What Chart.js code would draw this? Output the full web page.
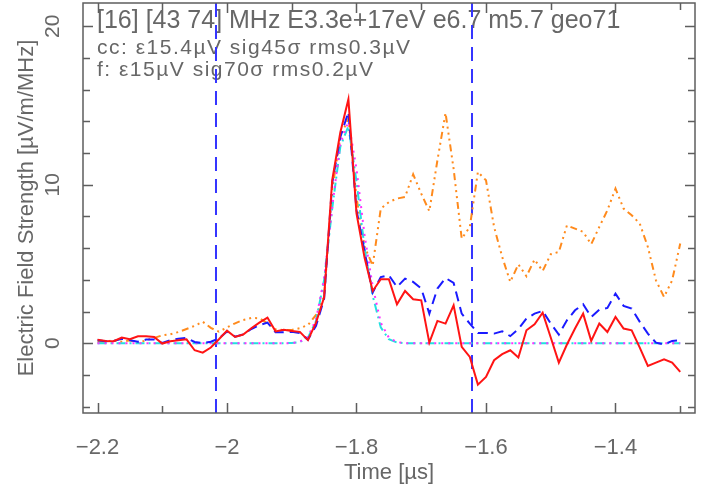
<!DOCTYPE html>
<html>
<head>
<meta charset="utf-8">
<script src="https://cdn.jsdelivr.net/npm/chart.js@4.4.1/dist/chart.umd.min.js"></script>
<style>
  html, body { margin: 0; padding: 0; background: #fff; }
</style>
</head>
<body>
<canvas id="myChart" width="715" height="495"></canvas>
<script>
// time samples [µs], 12.5 ns apart
const time = [
  -2.2, -2.1875, -2.175, -2.1625, -2.15, -2.1375, -2.125, -2.1125, -2.1, -2.0875,
  -2.075, -2.0625, -2.05, -2.0375, -2.025, -2.0125, -2.0, -1.9875, -1.975, -1.9625,
  -1.95, -1.9375, -1.925, -1.9125, -1.9, -1.8875, -1.875, -1.8625, -1.85, -1.8375,
  -1.825, -1.8125, -1.8, -1.7875, -1.775, -1.7625, -1.75, -1.7375, -1.725, -1.7125,
  -1.7, -1.6875, -1.675, -1.6625, -1.65, -1.6375, -1.625, -1.6125, -1.6, -1.5875,
  -1.575, -1.5625, -1.55, -1.5375, -1.525, -1.5125, -1.5, -1.4875, -1.475, -1.4625,
  -1.45, -1.4375, -1.425, -1.4125, -1.4, -1.3875, -1.375, -1.3625, -1.35, -1.3375,
  -1.325, -1.3125, -1.3
];

// field strength [µV/m/MHz]
const fieldRed = [
  0.23, 0.15, 0.13, 0.36, 0.25, 0.44, 0.44, 0.40, -0.02, 0.13,
  0.19, 0.25, -0.44, -0.59, -0.27, 0.25, 0.80, 0.40, 0.55, 0.95,
  1.30, 1.62, 0.75, 0.85, 0.78, 0.72, 0.20, 1.30, 2.90, 10.3,
  13.3, 15.4, 8.2, 5.4, 3.3, 4.04, 4.04, 2.46, 3.30, 2.78,
  2.71, 0.04, 1.41, 1.24, 2.40, -0.23, -0.86, -2.61, -2.12, -1.07,
  -0.69, -0.44, -0.90, 0.82, 1.20, 1.93, 0.36, -1.22, -0.08, 0.93,
  1.87, 0.15, 1.24, 0.71, 1.66, 0.93, 0.82, -0.27, -1.43, -1.22,
  -1.01, -1.22, -1.81
];

const fieldBlue = [
  0.19, 0.13, 0.15, 0.29, 0.19, 0.10, 0.23, 0.23, 0.02, 0.19,
  0.29, 0.34, 0.08, 0.02, 0.10, 0.30, 0.75, 0.42, 0.55, 0.90,
  1.15, 1.30, 0.70, 0.70, 0.72, 0.65, 0.23, 1.10, 2.80, 10.1,
  13.0, 14.6, 8.4, 5.8, 3.2, 4.18, 4.29, 3.55, 4.08, 3.87,
  3.45, 1.87, 3.45, 4.12, 3.81, 1.87, 1.24, 0.65, 0.65, 0.61,
  0.76, 0.45, 0.90, 1.56, 1.87, 2.04, 1.24, 0.55, 1.45, 2.08,
  2.46, 1.66, 2.12, 2.23, 3.13, 2.36, 2.19, 1.35, 0.61, 0.04,
  -0.08, 0.15, 0.19
];

const fieldOrange = [
  0.10, 0.10, 0.19, 0.10, 0.19, 0.02, 0.19, 0.34, 0.50, 0.57,
  0.71, 0.90, 1.10, 1.36, 0.97, 0.73, 1.00, 1.26, 1.47, 1.60,
  1.58, 1.26, 0.88, 0.84, 0.84, 0.95, 1.15, 1.79, 2.94, 9.7,
  13.0, 14.2, 9.2, 6.1, 4.9, 8.5, 8.91, 9.13, 9.23, 10.66,
  9.44, 8.33, 11.55, 14.53, 11.0, 6.6, 7.34, 10.81, 10.28, 7.34,
  5.45, 3.87, 4.98, 4.23, 5.28, 4.56, 5.62, 5.76, 7.44, 7.23,
  7.03, 6.25, 7.34, 8.39, 9.76, 8.50, 8.08, 7.55, 6.08, 3.97,
  2.92, 3.97, 6.29
];

const fitCyan = [
  0, 0, 0, 0, 0, 0, 0, 0, 0, 0,
  0, 0, 0, 0, 0, 0, 0, 0, 0, 0,
  0, 0, 0, 0, 0.02, 0.08, 0.35, 1.4, 4.0, 8.5,
  12.4, 13.7, 10.2, 6.0, 3.0, 1.0, 0.25, 0.05, 0, 0,
  0, 0, 0, 0, 0, 0, 0, 0, 0, 0,
  0, 0, 0, 0, 0, 0, 0, 0, 0, 0,
  0, 0, 0, 0, 0, 0, 0, 0, 0, 0,
  0, 0, 0
];

const fitMagenta = [
  0, 0, 0, 0, 0, 0, 0, 0, 0, 0,
  0, 0, 0, 0, 0, 0, 0, 0, 0, 0,
  0, 0, 0, 0, 0, 0.1, 0.4, 1.5, 4.1, 8.6,
  12.6, 14.0, 11.0, 6.8, 3.6, 1.3, 0.35, 0.08, 0, 0,
  0, 0, 0, 0, 0, 0, 0, 0, 0, 0,
  0, 0, 0, 0, 0, 0, 0, 0, 0, 0,
  0, 0, 0, 0, 0, 0, 0, 0, 0, 0,
  0, 0, 0
];

// vertical window markers [µs]
const windowLines = [-2.017, -1.6216];

const xTickValues = [-2.2, -2, -1.8, -1.6, -1.4];
const yTickValues = [0, 10, 20];

const headerLines = [
  '[16] [43 74] MHz E3.3e+17eV e6.7 m5.7 geo71',
  'cc: \u03b515.4\u00b5V sig45\u03c3 rms0.3\u00b5V',
  'f: \u03b515\u00b5V sig70\u03c3 rms0.2\u00b5V'
];

const X_MIN = -2.2224, X_MAX = -1.2772;
const Y_MIN = -4.40, Y_MAX = 21.47;
const GREY = '#5e5e5e';
const TEXT = '#676767';
const FONT = '"Liberation Sans", Arial, sans-serif';

const toPoints = vals => vals.map((v, i) => ({ x: time[i], y: v }));
const minus = v => String(v).replace('-', '\u2212');

// box + inward ticks on all four sides
const framePlugin = {
  id: 'frame',
  afterDatasetsDraw(chart) {
    const { ctx, chartArea: a, scales: { x, y } } = chart;
    ctx.save();
    ctx.strokeStyle = GREY;
    ctx.lineWidth = 1.5;
    ctx.strokeRect(a.left, a.top, a.right - a.left, a.bottom - a.top);
    ctx.beginPath();
    for (let i = 0; i <= 9; i++) {
      const v = -2.2 + i * 0.1;
      const px = Math.round(x.getPixelForValue(v)) + 0.5;
      const len = i % 2 === 0 ? 10 : 7;
      ctx.moveTo(px, a.bottom); ctx.lineTo(px, a.bottom - len);
      ctx.moveTo(px, a.top); ctx.lineTo(px, a.top + len);
    }
    for (let v = -4; v <= 20; v += 2) {
      const py = Math.round(y.getPixelForValue(v)) + 0.5;
      const len = v % 10 === 0 ? 10 : 7;
      ctx.moveTo(a.left, py); ctx.lineTo(a.left + len, py);
      ctx.moveTo(a.right, py); ctx.lineTo(a.right - len, py);
    }
    ctx.stroke();
    ctx.restore();
  }
};

const headerPlugin = {
  id: 'header',
  beforeDatasetsDraw(chart) {
    const ctx = chart.ctx;
    ctx.save();
    ctx.fillStyle = TEXT;
    ctx.textBaseline = 'alphabetic';
    ctx.font = '25px ' + FONT;
    ctx.fillText(headerLines[0], 97, 28);
    ctx.font = '21px ' + FONT;
    ctx.letterSpacing = '1.5px';
    ctx.fillText(headerLines[1], 97, 54);
    ctx.fillText(headerLines[2], 97, 76);
    ctx.restore();
  }
};

const lineStyle = { pointRadius: 0, fill: false, tension: 0, borderWidth: 2 };

const ctx = document.getElementById('myChart').getContext('2d');

new Chart(ctx, {
  type: 'line',
  data: {
    datasets: [
      { ...lineStyle, data: toPoints(fieldRed), borderColor: '#ff1414' },
      { ...lineStyle, data: toPoints(fieldBlue), borderColor: '#1a1aff', borderDash: [10, 6] },
      { ...lineStyle, data: toPoints(fitMagenta), borderColor: '#ff30ff', borderDash: [2, 5] },
      { ...lineStyle, data: toPoints(fitCyan), borderColor: '#22e0e0', borderDash: [9, 4, 2, 4] },
      { ...lineStyle, data: toPoints(fieldOrange), borderColor: '#ff8a1c', borderDash: [7, 4, 2, 4, 2, 4, 2, 4] },
      ...windowLines.map(t => ({
        ...lineStyle,
        data: [{ x: t, y: Y_MIN }, { x: t, y: Y_MAX }],
        borderColor: '#3535ff',
        borderDash: [14, 8]
      }))
    ]
  },
  options: {
    responsive: false,
    animation: false,
    devicePixelRatio: 1,
    layout: { padding: { top: 3, right: 20, left: 0, bottom: 0 } },
    plugins: { legend: { display: false }, tooltip: { enabled: false } },
    scales: {
      x: {
        type: 'linear',
        min: X_MIN,
        max: X_MAX,
        afterBuildTicks: s => { s.ticks = xTickValues.map(v => ({ value: v })); },
        afterFit: s => { s.height = 82; s.paddingLeft = 0; s.paddingRight = 0; },
        grid: { display: false },
        border: { display: false },
        ticks: {
          color: TEXT,
          font: { family: FONT, size: 22 },
          padding: 14,
          maxRotation: 0,
          callback: v => minus(v)
        },
        title: {
          display: true,
          text: 'Time [\u00b5s]',
          color: TEXT,
          font: { family: FONT, size: 22 },
          padding: { top: 0, bottom: 9 }
        }
      },
      y: {
        type: 'linear',
        min: Y_MIN,
        max: Y_MAX,
        afterBuildTicks: s => { s.ticks = yTickValues.map(v => ({ value: v })); },
        afterFit: s => { s.width = 83; s.paddingTop = 0; s.paddingBottom = 0; },
        grid: { display: false },
        border: { display: false },
        ticks: {
          color: TEXT,
          font: { family: FONT, size: 21 },
          padding: 10,
          minRotation: 90,
          maxRotation: 90,
          crossAlign: 'center',
          callback: v => minus(v)
        },
        title: {
          display: true,
          text: 'Electric Field Strength [\u00b5V/m/MHz]',
          color: TEXT,
          font: { family: FONT, size: 22 },
          padding: { top: 14, bottom: 0 }
        }
      }
    }
  },
  plugins: [headerPlugin, framePlugin]
});
</script>
</body>
</html>
